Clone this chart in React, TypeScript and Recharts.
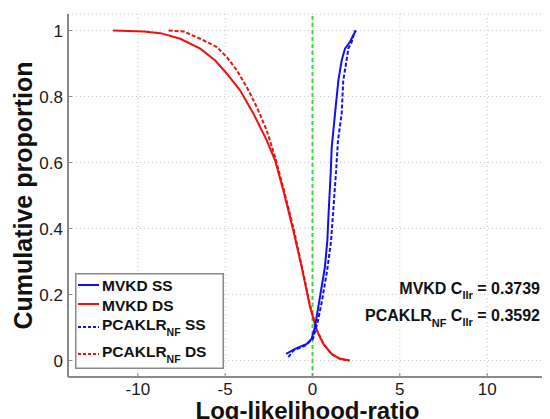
import {
  LineChart, Line, XAxis, YAxis, CartesianGrid, ReferenceLine, Legend,
} from "recharts";

type Pt = { x: number; y: number };

const xTicks = [-10, -5, 0, 5, 10];
const yTicks = [0, 0.2, 0.4, 0.6, 0.8, 1];

// cumulative proportion curves
const mvkdSS: Pt[] = [
  { x: -1.51, y: 0.02 }, { x: -1.0, y: 0.035 }, { x: -0.33, y: 0.05 }, { x: -0.05, y: 0.066 },
  { x: 0.14, y: 0.101 }, { x: 0.33, y: 0.162 }, { x: 0.52, y: 0.222 }, { x: 0.71, y: 0.283 },
  { x: 0.85, y: 0.364 }, { x: 0.94, y: 0.465 }, { x: 1.04, y: 0.566 }, { x: 1.1, y: 0.646 },
  { x: 1.29, y: 0.748 }, { x: 1.48, y: 0.848 }, { x: 1.67, y: 0.909 }, { x: 1.86, y: 0.945 },
  { x: 2.14, y: 0.965 }, { x: 2.43, y: 0.995 }, { x: 2.49, y: 1 },
];
const mvkdDS: Pt[] = [
  { x: -11.42, y: 1 }, { x: -9.67, y: 0.997 }, { x: -8.71, y: 0.992 }, { x: -7.57, y: 0.975 },
  { x: -6.43, y: 0.945 }, { x: -5.57, y: 0.909 }, { x: -4.9, y: 0.869 }, { x: -4.14, y: 0.818 },
  { x: -3.38, y: 0.748 }, { x: -2.62, y: 0.667 }, { x: -2.14, y: 0.606 }, { x: -1.67, y: 0.515 },
  { x: -1.1, y: 0.394 }, { x: -0.62, y: 0.283 }, { x: -0.14, y: 0.162 }, { x: 0.24, y: 0.091 },
  { x: 0.62, y: 0.05 }, { x: 1.1, y: 0.02 }, { x: 1.57, y: 0.005 }, { x: 2.14, y: 0 },
];
const pcaSS: Pt[] = [
  { x: -1.38, y: 0.01 }, { x: -1.1, y: 0.03 }, { x: -0.43, y: 0.045 }, { x: 0.03, y: 0.066 },
  { x: 0.31, y: 0.12 }, { x: 0.54, y: 0.18 }, { x: 0.83, y: 0.27 }, { x: 1.06, y: 0.36 },
  { x: 1.23, y: 0.485 }, { x: 1.34, y: 0.566 }, { x: 1.46, y: 0.667 }, { x: 1.67, y: 0.748 },
  { x: 1.76, y: 0.848 }, { x: 1.95, y: 0.909 }, { x: 2.05, y: 0.945 }, { x: 2.24, y: 0.965 },
  { x: 2.43, y: 1 },
];
const pcaDS: Pt[] = [
  { x: -8.24, y: 1 }, { x: -7.38, y: 0.997 }, { x: -6.43, y: 0.975 }, { x: -5.48, y: 0.95 },
  { x: -4.9, y: 0.919 }, { x: -4.33, y: 0.879 }, { x: -3.76, y: 0.828 }, { x: -3.19, y: 0.768 },
  { x: -2.62, y: 0.697 }, { x: -2.14, y: 0.616 }, { x: -1.63, y: 0.515 }, { x: -1.06, y: 0.394 },
  { x: -0.6, y: 0.283 }, { x: -0.14, y: 0.167 }, { x: 0.26, y: 0.091 }, { x: 0.66, y: 0.048 },
  { x: 1.11, y: 0.018 }, { x: 1.57, y: 0.005 }, { x: 2.09, y: 0 },
];

const mvkdCllr = "0.3739";
const pcaCllr = "0.3592";

const BLUE = "#1010f0";
const RED = "#f01010";
const AXIS = "#8a8a8a";
const FONT = "'Liberation Sans', Arial, sans-serif";

function LegendBox() {
  const rows = [
    { name: "MVKD", sub: "", tail: " SS", color: BLUE, dash: undefined, ly: 12, ty: 18 },
    { name: "MVKD", sub: "", tail: " DS", color: RED, dash: undefined, ly: 31, ty: 38 },
    { name: "PCAKLR", sub: "NF", tail: " SS", color: BLUE, dash: "3 2", ly: 54, ty: 57 },
    { name: "PCAKLR", sub: "NF", tail: " DS", color: RED, dash: "3 2", ly: 81, ty: 84 },
  ];
  return (
    <svg width={149} height={96} style={{ display: "block", background: "#fff" }}>
      <rect x={0.75} y={0.75} width={147.5} height={94.5} fill="#fff" stroke={AXIS} strokeWidth={1.5} />
      {rows.map((r, i) => (
        <g key={i}>
          <line x1={3} x2={24} y1={r.ly} y2={r.ly} stroke={r.color} strokeWidth={2} strokeDasharray={r.dash} />
          <text x={27} y={r.ty} fontSize={15.5} fontWeight="bold" fill="#111" fontFamily={FONT}>
            {r.name}
            {r.sub && <tspan fontSize={10.5} dy={6}>{r.sub}</tspan>}
            <tspan dy={r.sub ? -6 : 0}>{r.tail}</tspan>
          </text>
        </g>
      ))}
    </svg>
  );
}

export default function App() {
  return (
    <div style={{ position: "relative", width: 542, height: 411, overflow: "hidden", fontFamily: FONT }}>
      <LineChart width={560} height={419} margin={{ top: 6, right: 11, left: 0, bottom: 0 }}>
        <CartesianGrid stroke="#c8c8c8" strokeDasharray="1 3" />
        <XAxis
          dataKey="x" type="number" domain={[-14, 14]} ticks={xTicks} allowDataOverflow
          height={50} tickSize={-4} tickMargin={10} interval={0}
          axisLine={{ stroke: AXIS, strokeWidth: 2 }} tickLine={{ stroke: AXIS }}
          tick={{ fill: "#1a1a1a", fontSize: 17 }}
          label={{ value: "Log-likelihood-ratio", position: "insideBottom", offset: 8, dx: -5,
            style: { fontSize: 24, fontWeight: "bold", fill: "#111" } }}
        />
        <XAxis
          xAxisId="top" orientation="top" type="number" domain={[-14, 14]} ticks={xTicks} height={0}
          tickSize={-4} interval={0} tick={false} tickLine={{ stroke: AXIS }}
          axisLine={{ stroke: AXIS, strokeWidth: 2 }}
        />
        <YAxis
          type="number" domain={[-0.05, 1.05]} ticks={yTicks} allowDataOverflow
          width={60} tickSize={-4} tickMargin={9} interval={0}
          axisLine={{ stroke: AXIS, strokeWidth: 2 }} tickLine={{ stroke: AXIS }}
          tick={{ fill: "#1a1a1a", fontSize: 17 }}
          label={{ value: "Cumulative proportion", angle: -90, position: "insideLeft", offset: 15,
            style: { textAnchor: "middle", fontSize: 25, fontWeight: "bold", fill: "#111" } }}
        />
        <ReferenceLine x={0} stroke="#33dd33" strokeWidth={2} strokeDasharray="4 3" />
        <Line data={mvkdDS} dataKey="y" stroke={RED} strokeWidth={2} dot={false} isAnimationActive={false} />
        <Line data={pcaDS} dataKey="y" stroke={RED} strokeWidth={2} strokeDasharray="4 2" dot={false} isAnimationActive={false} />
        <Line data={mvkdSS} dataKey="y" stroke={BLUE} strokeWidth={2} dot={false} isAnimationActive={false} />
        <Line data={pcaSS} dataKey="y" stroke={BLUE} strokeWidth={2} strokeDasharray="4 2" dot={false} isAnimationActive={false} />
        <Legend
          layout="horizontal" verticalAlign="middle" align="center"
          wrapperStyle={{ position: "absolute", left: 67, top: 265, width: 149, height: 96 }}
          content={() => <LegendBox />}
        />
      </LineChart>
      <svg width={542} height={411} style={{ position: "absolute", left: 0, top: 0, pointerEvents: "none" }}>
        <text x={532} y={286} textAnchor="end" fontSize={16} fontWeight="bold" fill="#111" fontFamily={FONT}>
          MVKD C<tspan fontSize={11} dy={5}>llr</tspan><tspan dy={-5}>{" = " + mvkdCllr}</tspan>
        </text>
        <text x={532} y={313} textAnchor="end" fontSize={16} fontWeight="bold" fill="#111" fontFamily={FONT}>
          PCAKLR<tspan fontSize={11} dy={6}>NF</tspan><tspan dy={-6}>{" C"}</tspan>
          <tspan fontSize={11} dy={5}>llr</tspan><tspan dy={-5}>{" = " + pcaCllr}</tspan>
        </text>
      </svg>
    </div>
  );
}
